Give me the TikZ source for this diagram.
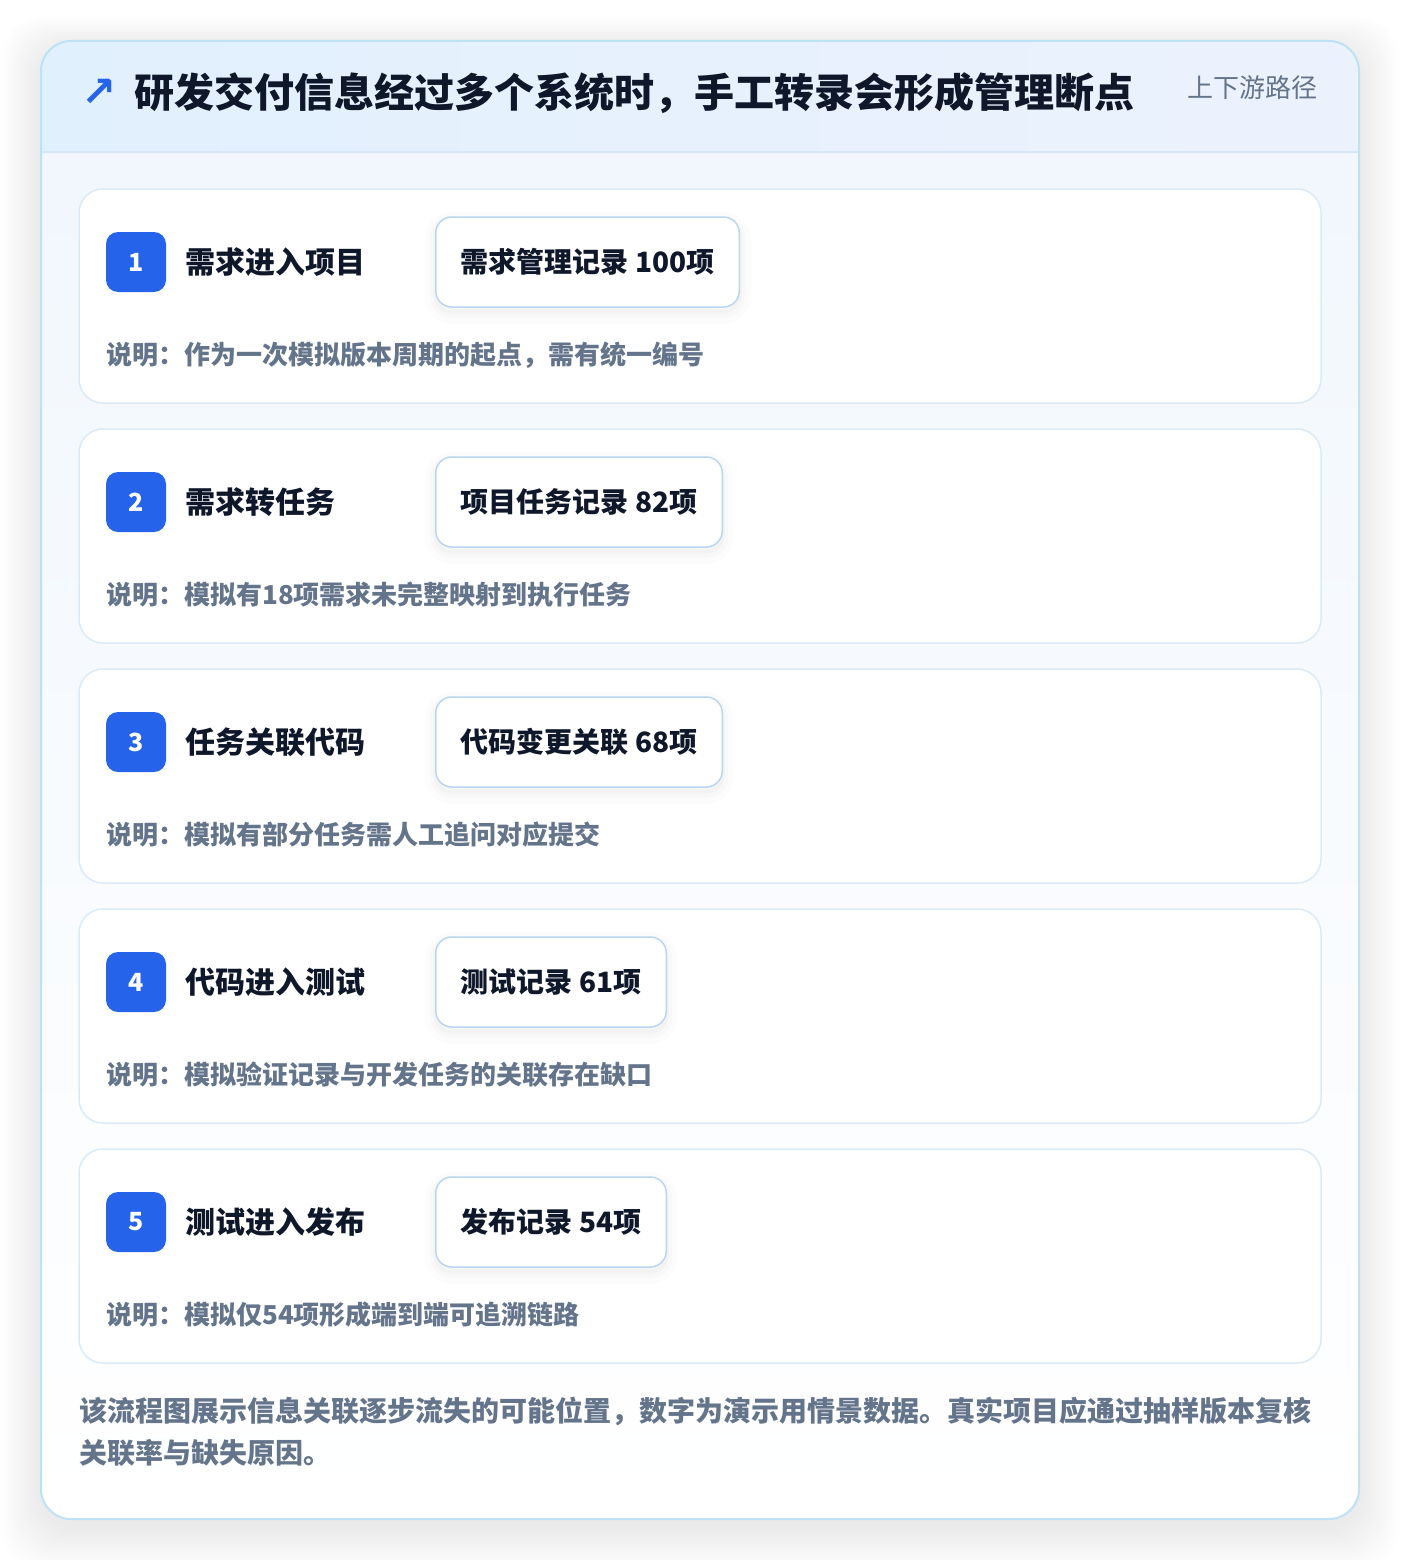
\documentclass[tikz,border=0pt]{standalone}
\usepackage{fontspec}
\setmainfont{Noto Sans CJK SC}
\newfontfamily\symfont{DejaVu Sans}
\usetikzlibrary{positioning}

\definecolor{brandblue}{HTML}{2563EB}
\definecolor{inkdark}{HTML}{0F172A}
\definecolor{inkgray}{HTML}{64748B}
\definecolor{cardline}{HTML}{BDE2F6}
\definecolor{headrule}{HTML}{D6E8F8}
\definecolor{stepline}{HTML}{DCEAF7}
\definecolor{recline}{HTML}{BCD6F2}
\definecolor{headleft}{HTML}{E1F0FD}
\definecolor{headright}{HTML}{ECF2FD}
\definecolor{bodytop}{HTML}{F1F7FD}

\tikzset{
  softshadow/.style={
    preaction={draw=black, draw opacity=0.012, line width=22pt, transform canvas={yshift=-6pt}},
    preaction={draw=black, draw opacity=0.015, line width=12pt, transform canvas={yshift=-5pt}},
    preaction={draw=black, draw opacity=0.02, line width=5pt, transform canvas={yshift=-4pt}}},
  stepcard/.style={draw=stepline, line width=1.5pt, fill=white, rounded corners=24pt},
  badge/.style={fill=brandblue, rounded corners=12pt, minimum size=60pt, inner sep=0pt,
    text=white, font=\bfseries\fontsize{25}{28}\selectfont},
  steptitle/.style={anchor=west, inner sep=0pt, text=inkdark, font=\bfseries\fontsize{30}{36}\selectfont},
  recbox/.style={softshadow, draw=recline, line width=1.5pt, fill=white, rounded corners=16pt,
    minimum height=90pt, inner xsep=25pt, anchor=west, text=inkdark, font=\bfseries\fontsize{28}{34}\selectfont},
  notetext/.style={anchor=west, inner sep=0pt, text=inkgray, font=\bfseries\fontsize{26}{32}\selectfont},
  foottext/.style={anchor=west, inner sep=0pt, text=inkgray, font=\bfseries\fontsize{28}{34}\selectfont},
}

\begin{document}
\begin{tikzpicture}[x=1pt, y=-1pt]
  \fill[white] (0,0) rectangle (1400,1560);
  \useasboundingbox (0,0) rectangle (1400,1560);

  % shadow of the outer card
  \foreach \i in {1,...,20}
    \fill[black, opacity=0.004, rounded corners=40pt] ({41-2*\i},{47-1.5*\i}) rectangle ({1359+2*\i},{1529+2*\i});

  \begin{scope}
    \clip[rounded corners=30pt] (41,41) rectangle (1359,1519);
    \shade[left color=headleft, right color=headright] (41,41) rectangle (1359,152);
    \shade[top color=bodytop, bottom color=white] (41,152) rectangle (1359,1519);
  \end{scope}
  \draw[headrule, line width=1.5pt] (41,152) -- (1359,152);
  \draw[cardline, line width=2pt, rounded corners=30pt] (41,41) rectangle (1359,1519);

  \node[text=brandblue, font=\symfont\bfseries\fontsize{42}{48}\selectfont] (arrow) at (99,93) {↗};
  \node[anchor=west, inner sep=0pt, text=inkdark, font=\bfseries\fontsize{40}{48}\selectfont] (title) at (134,93)
    {研发交付信息经过多个系统时，手工转录会形成管理断点};
  \node[anchor=east, inner sep=0pt, text=inkgray, font=\fontsize{26}{30}\selectfont] (tag) at (1318,88) {上下游路径};

  \foreach \n/\name/\rec/\note [count=\k from 0] in {
      1/需求进入项目/需求管理记录 100项/说明：作为一次模拟版本周期的起点，需有统一编号,
      2/需求转任务/项目任务记录 82项/说明：模拟有18项需求未完整映射到执行任务,
      3/任务关联代码/代码变更关联 68项/说明：模拟有部分任务需人工追问对应提交,
      4/代码进入测试/测试记录 61项/说明：模拟验证记录与开发任务的关联存在缺口,
      5/测试进入发布/发布记录 54项/说明：模拟仅54项形成端到端可追溯链路} {
    \pgfmathsetmacro\top{189+240*\k}
    \draw[stepcard] (79,\top) rectangle (1321,{\top+214});
    \node[badge] (badge\n) at (136,{\top+73}) {\n};
    \node[steptitle, right=19pt of badge\n] (name\n) {\name};
    \node[recbox] (rec\n) at (435,{\top+73}) {\rec};
    \node[notetext] (note\n) at (106,{\top+166}) {\note};
  }

  \node[foottext] (foot1) at (79,1411)
    {该流程图展示信息关联逐步流失的可能位置，数字为演示用情景数据。真实项目应通过抽样版本复核};
  \node[foottext] (foot2) at (79,1453) {关联率与缺失原因。};
\end{tikzpicture}
\end{document}
